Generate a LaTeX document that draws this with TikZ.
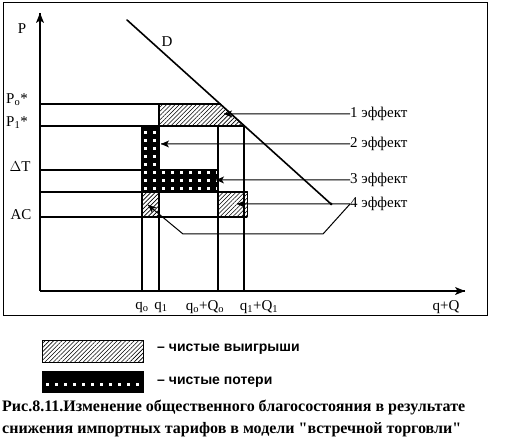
\documentclass[tikz,border=0pt]{standalone}
\usepackage{fontspec}
\setmainfont{Liberation Serif}
\newfontfamily\legendfont{Liberation Sans}
\usepackage{tkz-euclide}
\usetikzlibrary{patterns,patterns.meta,positioning}

\newcommand\efftip[1]{\fill[black] (#1) -- ++(8,3.5) -- ++(-2,-3.5) -- ++(2,-3.5) -- cycle;}

\tikzset{
  gain/.style={draw=black,line width=1pt,pattern={Lines[angle=45,distance=3pt,line width=0.6pt]}},
  edge/.style={draw=black,line width=1pt},
  guide/.style={black,line width=1.1pt},
  axisline/.style={black,line width=1.2pt},
  dline/.style={black,line width=1.6pt},
  effline/.style={black,line width=1pt},
  lbl/.style={font=\fontsize{15}{17}\selectfont,inner sep=0pt},
  legend/.style={font=\legendfont\bfseries\fontsize{14}{16}\selectfont,inner sep=0pt,anchor=west},
  caption/.style={font=\bfseries\fontsize{16}{19}\selectfont,inner sep=0pt,anchor=west},
}

\begin{document}
\begin{tikzpicture}[scale=0.035146]
		\useasboundingbox (0,0) rectangle (510,441);
		\tkzDefPoint(3,125){F1}
		\tkzDefPoint(487,438){F2}
		\draw[line width=1pt] (F1) rectangle (F2);

		\tkzDefPoint(40,150){O}
		\tkzDefPoint(40,428){Ytop}
		\tkzDefPoint(465,150){Xend}
		\tkzDefPoint(127,421){Da}
		\tkzDefPoint(331,237){Db}

		\tkzDefPoint(40,337){Y0}
		\tkzDefPoint(40,315){Y1}
		\tkzDefPoint(40,271){YT}
		\tkzDefPoint(40,249){YM}
		\tkzDefPoint(40,224){YA}
		\tkzDefPoint(220.1,337){E0}
		\tkzDefPoint(244,315){E1}

		\tkzDefPoint(142,150){Q0}
		\tkzDefPoint(159,150){Q1}
		\tkzDefPoint(218,150){Q2}
		\tkzDefPoint(244,150){Q3}

		\tkzDefPoint(159,337){G1}
		\tkzDefPoint(159,315){G2}
		\tkzDrawPolygon[gain](G1,E0,E1,G2)

		\tkzDefPoint(142,315){L1}
		\tkzDefPoint(159,271){L3}
		\tkzDefPoint(218,271){L4}
		\tkzDefPoint(218,249){L5}
		\tkzDefPoint(142,249){L6}
		\tkzDefPoint(142,271){L7}
		\begin{scope}
			\clip (L1) -- (G2) -- (L3) -- (L4) -- (L5) -- (L6) -- cycle;
			\fill[black] (L6) rectangle (230,320);
			\foreach \x in {144,153,...,216}
				\foreach \y in {251,259,...,313}
					\fill[white] (\x,\y) rectangle ++(3,3);
		\end{scope}
		\tkzDrawPolygon[edge](L1,G2,L3,L4,L5,L6)

		\tkzDefPoint(159,249){S2}
		\tkzDefPoint(159,224){S3}
		\tkzDefPoint(142,224){S4}
		\tkzDrawPolygon[gain](L6,S2,S3,S4)

		\tkzDefPoint(247,249){R2}
		\tkzDefPoint(247,224){R3}
		\tkzDefPoint(218,224){R4}
		\tkzDrawPolygon[gain](L5,R2,R3,R4)

		\tkzDefPoint(218,315){T2}
		\tkzDrawSegments[guide](Y0,E0 Y1,E1 YT,L7 YM,R2 YA,R3)
		\tkzDrawSegments[guide](Q0,L1 Q1,G1 Q2,T2 Q3,E1)
		\draw[axisline] (O) -- (Ytop);
		\draw[axisline] (O) -- (Xend);
		\fill[black] (Ytop) -- ++(-4,-10) -- ++(4,2.5) -- ++(4,-2.5) -- cycle;
		\fill[black] (Xend) -- ++(-10,4) -- ++(2.5,-4) -- ++(-2.5,-4) -- cycle;
		\tkzDrawSegment[dline](Da,Db)
		\fill[black] (Db) circle (1.5);

		\node[lbl] (lP) at (22,412) {P};
		\node[lbl] (lD) at (167,399) {D};
		\node[lbl] (lP0) at (17,341) {P\textsubscript{o}*};
		\node[lbl] (lP1) at (17,318) {P\textsubscript{1}*};
		\node[lbl] (lT) at (20,274) {$\Delta$T};
		\node[lbl] (lAC) at (21,226) {AC};
		\node[lbl] (lq0) at (142,134) {q\textsubscript{o}};
		\node[lbl] (lq1) at (161,134) {q\textsubscript{1}};
		\node[lbl] (lq0Q0) at (205,134) {q\textsubscript{o}+Q\textsubscript{o}};
		\node[lbl] (lq1Q1) at (259,134) {q\textsubscript{1}+Q\textsubscript{1}};
		\node[lbl] (lqQ) at (446,134) {q+Q};

		\tkzDefPoint(224,327){A1}
		\tkzDefPoint(161,297){A2}
		\tkzDefPoint(216,261){A3}
		\tkzDefPoint(237,237){A4}
		\tkzDefPoint(323,207){K1}
		\tkzDefPoint(183,207){K2}
		\tkzDefPoint(148,236){K3}
		\node[lbl,anchor=west] (eff1) at (350,327) {1 эффект};
		\node[lbl,anchor=west] (eff2) at (350,297) {2 эффект};
		\node[lbl,anchor=west] (eff3) at (350,261) {3 эффект};
		\node[lbl,anchor=west] (eff4) at (350,237) {4 эффект};
		\draw[effline] (eff1.west) -- (A1);
		\draw[effline] (eff2.west) -- (A2);
		\draw[effline] (eff3.west) -- (A3);
		\draw[effline] (eff4.west) -- (A4);
		\draw[effline] (eff4.west) -- (K1) -- (K2) -- (K3);
		\efftip{A1}
		\efftip{A2}
		\efftip{A3}
		\efftip{A4}
		\fill[black] (K3) -- ++(3.93,-7.8) -- ++(0.69,3.97) -- ++(3.77,1.43) -- cycle;

		\tkzDefPoint(42,100){B1}
		\tkzDefPoint(143,78){B2}
		\tkzDefPoint(42,69){B3}
		\tkzDefPoint(143,48){B4}
		\draw[gain] (B1) rectangle (B2);
		\fill[black] (B3) rectangle (B4);
		\foreach \x in {46,55,...,136}
			\fill[white] (\x,55) rectangle ++(3,3);
		\draw[edge] (B3) rectangle (B4);
		\node[legend] (tgain) at (157,92) {– чистые выигрыши};
		\node[legend] (tloss) at (157,59) {– чистые потери};

		\node[caption] (cap1) at (2,34) {Рис.8.11.Изменение общественного благосостояния в результате};
		\node[caption] (cap2) at (2,11) {снижения импортных тарифов в модели \textquotedbl встречной торговли\textquotedbl};
	\end{tikzpicture}
\end{document}
